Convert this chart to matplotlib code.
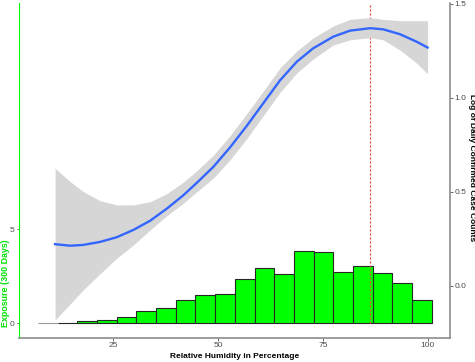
import numpy as np
import matplotlib
matplotlib.use("Agg")
import matplotlib.pyplot as plt

plt.rcParams['font.family'] = ['Liberation Sans', 'DejaVu Sans']

# histogram of exposure days (left axis)
bin_edges = [7.0, 11.7, 16.4, 21.1, 25.8, 30.5, 35.2, 39.9, 44.6, 49.3, 54.0,
             58.7, 63.4, 68.1, 72.8, 77.5, 82.2, 86.9, 91.6, 96.3, 101.0]
exposure = [0.0, 0.04, 0.10, 0.17, 0.35, 0.65, 0.80, 1.22, 1.49, 1.55, 2.34,
            2.94, 2.60, 3.87, 3.80, 2.71, 3.07, 2.66, 2.15, 1.26]

# smoothed log case counts with confidence band (right axis)
humidity = [11.1, 14.7, 17.8, 21.8, 25.8, 29.8, 33.8, 37.7, 41.7, 44.9, 48.9,
            52.9, 56.8, 60.8, 64.8, 68.8, 72.7, 77.5, 81.5, 86.3, 89.4, 93.4,
            97.4, 100.0]
fit = [0.222, 0.214, 0.218, 0.234, 0.259, 0.298, 0.347, 0.410, 0.482, 0.548,
       0.634, 0.738, 0.850, 0.972, 1.094, 1.193, 1.264, 1.326, 1.358, 1.371,
       1.365, 1.339, 1.299, 1.268]
upper = [0.626, 0.555, 0.502, 0.454, 0.431, 0.431, 0.448, 0.490, 0.552, 0.612,
         0.696, 0.800, 0.915, 1.037, 1.160, 1.250, 1.319, 1.383, 1.418, 1.427,
         1.418, 1.411, 1.411, 1.411]
lower = [-0.181, -0.096, -0.021, 0.064, 0.147, 0.218, 0.298, 0.372, 0.440, 0.500,
         0.574, 0.672, 0.782, 0.906, 1.030, 1.133, 1.207, 1.282, 1.309, 1.321,
         1.309, 1.255, 1.185, 1.128]

peak_humidity = 86.2

fig = plt.figure(figsize=(4.75, 3.62), dpi=100)
ax = fig.add_axes([18.5 / 475, 24 / 362, 431.5 / 475, 335 / 362])
ax2 = ax.twinx()

# bars
edges = np.array(bin_edges)
widths = np.diff(edges)
edgecols = ['#9a9a9a'] + ['#262626'] * (len(exposure) - 1)
ax.bar(edges[:-1], exposure, width=widths, align='edge', color='#00FF00',
       edgecolor=edgecols, linewidth=0.8, zorder=2)
ax.vlines(peak_humidity, 0, 17.0, colors='#E8413A', linestyles=(0, (1.6, 1.6)),
          linewidth=0.9, zorder=3)

# smooth + ribbon
ax2.fill_between(humidity, lower, upper, color='#D6D6D6', linewidth=0, zorder=1)
ax2.plot(humidity, fit, color='#3366FF', linewidth=1.7, zorder=2,
         solid_joinstyle='round')

ax.set_xlim(2.37, 105.35)
ax.set_ylim(-0.78, 17.04)
ax2.set_ylim(-0.277, 1.505)

ax.set_xticks([25, 50, 75, 100])
ax.set_yticks([0, 5])
ax2.set_yticks([0, 0.5, 1.0, 1.5])
ax2.set_yticklabels(['0.0', '0.5', '1.0', '1.5'])

for a in (ax, ax2):
    a.set_facecolor('none')
    for s in a.spines.values():
        s.set_visible(False)
    a.tick_params(labelsize=6, labelcolor='#4D4D4D', color='#4D4D4D',
                  length=1.8, width=0.6, pad=1.2)

ax.spines['left'].set_visible(True)
ax.spines['left'].set_color('#00FF00')
ax.spines['left'].set_linewidth(0.8)
ax.spines['bottom'].set_visible(True)
ax.spines['bottom'].set_color('#8C8C8C')
ax.spines['bottom'].set_linewidth(1.2)
ax2.spines['right'].set_visible(True)
ax2.spines['right'].set_color('#8C8C8C')
ax2.spines['right'].set_linewidth(1.2)

ax.text(0.5, -0.054, 'Relative Humidity in Percentage', transform=ax.transAxes,
        ha='center', va='center', fontsize=6, fontweight='bold', color='black')
ax.text(-0.031, 0.164, 'Exposure (300 Days)', transform=ax.transAxes,
        ha='center', va='center', rotation=90, fontsize=6.4, fontweight='bold',
        color='#00E000')
ax2.text(1.05, 0.51, 'Log of Daily Confirmed Case Counts', transform=ax2.transAxes,
         ha='center', va='center', rotation=-90, fontsize=6, fontweight='bold',
         color='black')

fig.savefig('out.png', dpi=100)
